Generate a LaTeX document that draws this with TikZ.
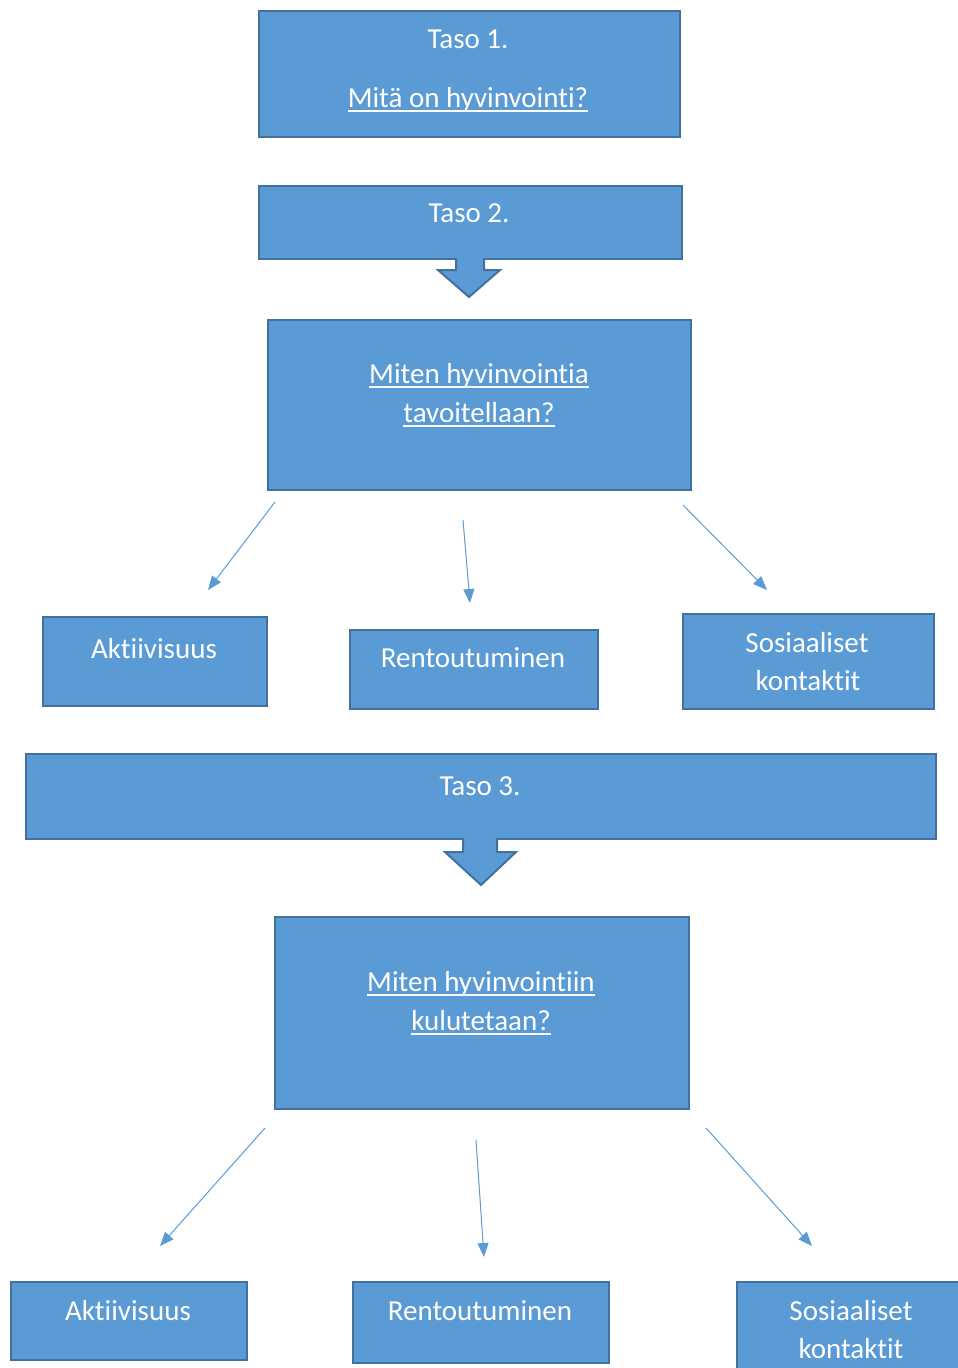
\documentclass[tikz,border=0pt]{standalone}
\usepackage{fontspec}
\setmainfont{Carlito}[Ligatures=NoCommon,RawFeature={-liga;-dlig;-clig}]
\usetikzlibrary{arrows.meta}
\definecolor{boxfill}{HTML}{5B9BD5}
\definecolor{boxline}{HTML}{41719C}
\newcommand\myul[1]{\leavevmode\setbox0\hbox{#1}\rlap{\rule[-4.5pt]{\wd0}{1.4pt}}\box0}
\tikzset{
  box/.style={draw=boxline, fill=boxfill, line width=2pt, inner sep=0pt, anchor=north west},
  txt/.style={text=white, font=\fontsize{29}{39}\selectfont, anchor=base, inner sep=0pt},
  conn/.style={draw=boxfill, line width=1pt, -{Triangle[length=14pt,width=11pt]}},
  blockarrow/.style={fill=boxfill},
  blockedge/.style={draw=boxline, line width=2pt, line join=miter},
}
\begin{document}
\begin{tikzpicture}[x=1pt,y=-1pt]
\useasboundingbox (0,0) rectangle (958,1368);
% Level 1
\node[box, minimum width=421pt, minimum height=126pt] (b1) at (258,10) {};
\node[txt] (b1a) at (468,48) {Taso 1.};
\node[txt] (b1b) at (468,107) {\myul{Mitä on hyvinvointi?}};
% Level 2
\node[box, minimum width=423pt, minimum height=73pt] (b2) at (258,185) {};
\node[txt] (b2a) at (469,222) {Taso 2.};
\fill[blockarrow] (456,256) -- (456,270) -- (438,270) -- (469,297) -- (500,270) -- (484,270) -- (484,256) -- cycle;
\draw[blockedge] (456,258) -- (456,270) -- (438,270) -- (469,297) -- (500,270) -- (484,270) -- (484,258);
\node[box, minimum width=423pt, minimum height=170pt] (b3) at (267,319) {};
\node[txt] (b3a) at (479,383) {\myul{Miten hyvinvointia}};
\node[txt] (b3b) at (479,422) {\myul{tavoitellaan?}};
\coordinate (s1) at (275,502); \coordinate (e1) at (208,590);
\coordinate (s2) at (463,520); \coordinate (e2) at (470,603);
\coordinate (s3) at (683,505); \coordinate (e3) at (767,590);
\draw[conn] (s1) -- (e1);
\draw[conn] (s2) -- (e2);
\draw[conn] (s3) -- (e3);
\node[box, minimum width=224pt, minimum height=89pt] (a1) at (42,616) {};
\node[txt] (a1t) at (154,658) {Aktiivisuus};
\node[box, minimum width=248pt, minimum height=79pt] (r1) at (349,629) {};
\node[txt] (r1t) at (473,667) {Rentoutuminen};
\node[box, minimum width=251pt, minimum height=95pt] (k1) at (682,613) {};
\node[txt] (k1a) at (807,652) {Sosiaaliset};
\node[txt] (k1b) at (808,690) {kontaktit};
% Level 3
\node[box, minimum width=910pt, minimum height=85pt] (b4) at (25,753) {};
\node[txt] (b4a) at (480,795) {Taso 3.};
\fill[blockarrow] (463,836) -- (463,852) -- (445,852) -- (481,885) -- (516,852) -- (497,852) -- (497,836) -- cycle;
\draw[blockedge] (463,838) -- (463,852) -- (445,852) -- (481,885) -- (516,852) -- (497,852) -- (497,838);
\node[box, minimum width=414pt, minimum height=192pt] (b5) at (274,916) {};
\node[txt] (b5a) at (481,991) {\myul{Miten hyvinvointiin}};
\node[txt] (b5b) at (481,1030) {\myul{kulutetaan?}};
\coordinate (t1) at (265,1128); \coordinate (f1) at (160,1246);
\coordinate (t2) at (476,1140); \coordinate (f2) at (484,1257);
\coordinate (t3) at (706,1128); \coordinate (f3) at (812,1246);
\draw[conn] (t1) -- (f1);
\draw[conn] (t2) -- (f2);
\draw[conn] (t3) -- (f3);
\node[box, minimum width=236pt, minimum height=78pt] (a2) at (10,1281) {};
\node[txt] (a2t) at (128,1320) {Aktiivisuus};
\node[box, minimum width=256pt, minimum height=81pt] (r2) at (352,1281) {};
\node[txt] (r2t) at (480,1320) {Rentoutuminen};
\node[box, minimum width=240pt, minimum height=100pt] (k2) at (736,1281) {};
\node[txt] (k2a) at (851,1320) {Sosiaaliset};
\node[txt] (k2b) at (851,1358) {kontaktit};
\end{tikzpicture}
\end{document}
